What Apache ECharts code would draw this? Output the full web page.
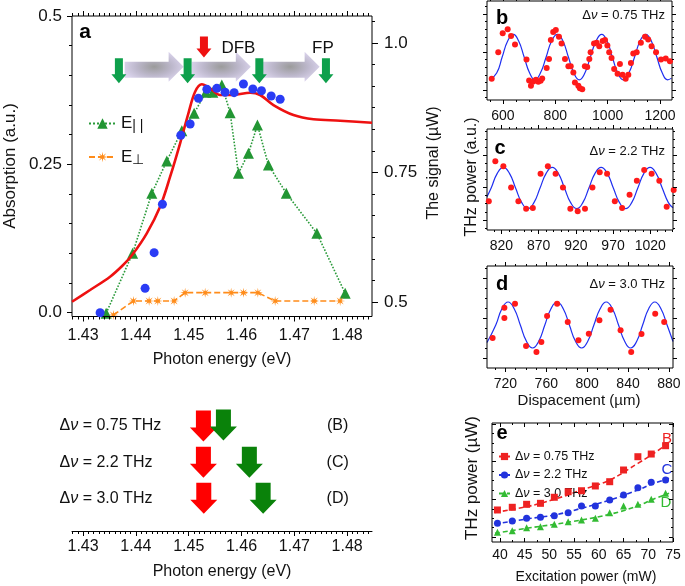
<!DOCTYPE html>
<html><head><meta charset="utf-8">
<script src="https://cdn.jsdelivr.net/npm/echarts@6/dist/echarts.min.js"></script>
<style>html,body{margin:0;padding:0;background:#fff}#c{width:685px;height:586px}</style>
</head><body><div id="c"></div>
<script>
// ================= DATA =================
// Panel a : absorption spectrum (left axis) and THz signal (right axis)
const absEnergy = [1.4279,1.43133,1.43511,1.43739,1.43928,1.44206,1.44458,1.44648,1.44837,1.44994,1.45121,1.45248,1.45405,1.45595,1.45847,1.46163,1.46352,1.46604,1.46983,1.47362,1.47867,1.48470];
const absValue  = [0.0185,0.0383,0.0607,0.0787,0.0972,0.1338,0.1786,0.2292,0.2855,0.336,0.3724,0.3849,0.3782,0.3669,0.3669,0.3707,0.3669,0.350,0.3332,0.3259,0.3236,0.3202];
const dotEnergy = [1.43322,1.44174,1.44345,1.44502,1.44850,1.45027,1.45184,1.45343,1.45532,1.45689,1.45860,1.46036,1.46214,1.46377,1.46561,1.46731];
const dotSignal = [0.4793,0.5264,0.5952,0.6886,0.8218,0.8436,0.8932,0.9106,0.9125,0.9048,0.9041,0.9208,0.9112,0.9079,0.8977,0.8913];
const eParEnergy = [1.43436,1.43938,1.44301,1.44585,1.44869,1.45102,1.45324,1.45456,1.45627,1.45784,1.45941,1.46131,1.46301,1.46509,1.46848,1.47426,1.47962];
const eParSignal = [0.4782,0.5940,0.7098,0.7722,0.8305,0.8643,0.9048,0.9048,0.9189,0.8654,0.7485,0.7871,0.8417,0.7645,0.7098,0.6326,0.5168];
const ePerpEnergy = [1.43574,1.43953,1.44250,1.44415,1.44723,1.44932,1.45311,1.45803,1.46036,1.46309,1.46636,1.47375,1.47867];
const ePerpSignal = [0.4749,0.5019,0.5019,0.5019,0.5019,0.5180,0.5180,0.5180,0.5180,0.5180,0.5019,0.5019,0.5019];
const fpModeEnergy = [1.43678,1.44979,1.46337,1.47598];
const tuningArrowEnergy = [1.44345,1.45617,1.46920];
const dfbEnergy = [1.45288];
const aXTicks = [1.43,1.44,1.45,1.46,1.47,1.48];
const aYLeftTicks = [0, 0.25, 0.5];
const aYRightTicks = [0.5, 0.75, 1.0];

// Lower-left panel : pump (red) and mode (green) arrows
const shiftLabels = ['0.75 THz','2.2 THz','3.0 THz'];
const shiftLetters = ['(B)','(C)','(D)'];
const shiftRows = [3, 2, 1];
const pumpArrowEnergy = [1.45278,1.45278,1.45285];
const modeArrowEnergy = [1.45657,1.46148,1.46409];
const modeArrowRows = [3.03, 2, 1];

// Panel b : Δν = 0.75 THz
const bDisp  = [557,582,599,618,631,646,690,700,707,716,726,735,744,750,767,776,783,792,802,814,824,837,850,859,869,875,888,894,903,913,922,930,935,948,958,968,981,990,999,1006,1015,1025,1038,1047,1057,1069,1079,1089,1098,1111,1127,1143,1155,1168,1185,1204,1222,1238];
const bPower = [0.214,0.483,0.673,0.714,0.646,0.561,0.408,0.197,0.143,0.187,0.204,0.184,0.194,0.218,0.323,0.415,0.605,0.687,0.707,0.640,0.571,0.415,0.340,0.340,0.279,0.177,0.143,0.119,0.109,0.340,0.333,0.415,0.483,0.571,0.578,0.544,0.595,0.605,0.551,0.483,0.425,0.313,0.265,0.364,0.255,0.214,0.255,0.374,0.469,0.483,0.578,0.640,0.612,0.544,0.483,0.408,0.418,0.391];
const bFitDisp  = [550,576,597,618,639.5,660,681,702,722,743,765,786,807.7,829,850,871,891.6,913,934,956,977.4,998,1018,1039,1059.7,1081,1103,1124,1145.5,1167,1188,1209,1229.3,1244];
const bFitPower = [0.206,0.272,0.434,0.596,0.663,0.596,0.434,0.272,0.204,0.272,0.434,0.596,0.663,0.596,0.434,0.272,0.204,0.272,0.434,0.596,0.663,0.596,0.434,0.272,0.204,0.272,0.434,0.596,0.663,0.596,0.434,0.272,0.204,0.221];
const bXTicks = [600,800,1000,1200];

// Panel c : Δν = 2.2 THz
const cDisp  = [803,811.8,822.6,833,842.8,853.2,862.2,872.6,882.4,892.8,902.7,912.6,922.5,932.3,942.3,952.1,962,972.4,982.2,992.2,1002,1011.9,1021.9,1032.2,1042.1,1051.5];
const cPower = [0.284,0.680,0.630,0.422,0.284,0.211,0.218,0.558,0.630,0.558,0.422,0.211,0.185,0.211,0.422,0.571,0.558,0.284,0.218,0.350,0.488,0.594,0.558,0.488,0.231,0.396];
const cFitDisp  = [800.6,806.2,814.4,822.6,830.8,839,847.3,855.5,863.7,871.9,880.1,888.3,896.5,904.7,913,921.2,929.4,937.6,945.8,954,962.2,970.4,978.7,986.9,995.1,1003.3,1011.5,1019.7,1027.9,1036.1,1044.4,1050.6];
const cFitPower = [0.33,0.416,0.561,0.621,0.561,0.416,0.271,0.211,0.271,0.416,0.561,0.621,0.561,0.416,0.271,0.211,0.271,0.416,0.561,0.621,0.561,0.416,0.271,0.211,0.271,0.416,0.561,0.621,0.561,0.416,0.271,0.22];
const cXTicks = [820,870,920,970,1020];

// Panel d : Δν = 3.0 THz
const dDisp  = [707.5,719,719,729.4,740.2,750.4,755.2,760.8,770.6,781,791.5,801.6,812,822.9,832.7,843.1,853.2,866.6,875.4];
const dPower = [0.294,0.591,0.490,0.631,0.216,0.157,0.255,0.510,0.631,0.451,0.271,0.337,0.467,0.572,0.369,0.157,0.333,0.533,0.451];
const dFitDisp  = [702,710.6,716.6,722.6,728.6,734.6,740.6,746.6,752.6,758.6,764.6,770.6,776.6,782.6,788.6,794.6,800.6,806.6,812.7,818.7,824.7,830.7,836.7,842.5,848.5,854.3,860.2,866.2,872.2,878.2,884];
const dFitPower = [0.25,0.4215,0.581,0.647,0.581,0.4215,0.262,0.196,0.262,0.4215,0.581,0.647,0.581,0.4215,0.262,0.196,0.262,0.4215,0.581,0.647,0.581,0.4215,0.262,0.196,0.262,0.4215,0.581,0.647,0.581,0.4215,0.26];
const dXTicks = [720,760,800,840,880];

// Panel e : THz power vs excitation power
const excitation = [39.5,42.5,45.4,48.2,51.0,53.8,56.5,59.3,62.2,65.0,67.9,70.6,73.5];
const powerB = [0.323,0.350,0.380,0.390,0.451,0.507,0.517,0.565,0.608,0.726,0.860,0.887,0.971];
const powerC = [0.188,0.212,0.239,0.249,0.265,0.296,0.363,0.363,0.423,0.474,0.548,0.602,0.625];
const powerD = [0.098,0.114,0.144,0.154,0.178,0.205,0.222,0.239,0.296,0.363,0.380,0.430,0.491];
const fitExcitation = [39.0,45.4,51.0,56.5,62.2,67.9,70.6,74.2];
const fitB = [0.299,0.356,0.430,0.524,0.625,0.793,0.877,1.001];
const fitC = [0.181,0.232,0.272,0.340,0.423,0.524,0.581,0.642];
const fitD = [0.088,0.138,0.178,0.222,0.279,0.363,0.423,0.491];
const eXTicks = [40,45,50,55,60,65,70,75];
const eNames = ['Δν = 0.75 THz','Δν = 2.2 THz','Δν = 3.0 THz'];

// ================= HELPERS =================
const FONT = '"Liberation Sans", Arial, Helvetica, sans-serif';
const zip = (a, b) => a.map((v, i) => [v, b[i]]);
function steps(a, b, s) { const o = []; const n = Math.round((b - a) / s); for (let i = 0; i <= n; i++) o.push(+(a + i * s).toFixed(6)); return o; }
function minus(list, maj) { return list.filter(v => !maj.some(m => Math.abs(m - v) < 1e-7)); }

const xAxes = [], yAxes = [];
function axis(list, o) {
  list.push({
    type: 'value', gridIndex: o.grid, position: o.pos, min: o.min, max: o.max, offset: 0,
    show: o.show !== false,
    axisLine: { show: !!o.line, onZero: false, lineStyle: { color: '#000', width: 1 } },
    splitLine: { show: false },
    axisTick: { show: !!(o.ticks && o.ticks.length), inside: !!o.inside, length: o.len || 4, customValues: o.ticks || [], lineStyle: { color: '#000', width: 1 } },
    axisLabel: { show: !!o.labels, customValues: o.labels || [], formatter: o.fmt || (v => String(v)), margin: o.margin || 8, color: '#111', fontSize: o.fs || 14, fontFamily: FONT, hideOverlap: false },
    axisPointer: { show: false }, silent: true, z: 5
  });
  return list.length - 1;
}
function frame(gi, xr, yr, xMaj, xMin, yMaj, yMin, o) {
  const inside = !!o.inside;
  const xi = axis(xAxes, { grid: gi, pos: 'bottom', min: xr[0], max: xr[1], labels: xMaj, ticks: xMaj, len: o.maj, inside, fmt: o.xfmt, fs: o.fs, margin: o.xm });
  axis(xAxes, { grid: gi, pos: 'bottom', min: xr[0], max: xr[1], ticks: xMin, len: o.mn, inside });
  axis(xAxes, { grid: gi, pos: 'top', min: xr[0], max: xr[1], ticks: xMaj, len: o.maj, inside });
  axis(xAxes, { grid: gi, pos: 'top', min: xr[0], max: xr[1], ticks: xMin, len: o.mn, inside });
  const yi = axis(yAxes, { grid: gi, pos: 'left', min: yr[0], max: yr[1], labels: o.ylabels, ticks: yMaj, len: o.maj, inside, fmt: o.yfmt, fs: o.yfs, margin: o.ym });
  axis(yAxes, { grid: gi, pos: 'left', min: yr[0], max: yr[1], ticks: yMin, len: o.mn, inside });
  if (!o.noRight) {
    axis(yAxes, { grid: gi, pos: 'right', min: yr[0], max: yr[1], ticks: yMaj, len: o.maj, inside });
    axis(yAxes, { grid: gi, pos: 'right', min: yr[0], max: yr[1], ticks: yMin, len: o.mn, inside });
  }
  return { x: xi, y: yi };
}
function tickSet(start, step, lo, hi) { const o = []; for (let k = -20; k <= 60; k++) { const v = +(start + k * step).toFixed(6); if (v >= lo && v <= hi) o.push(v); } return o; }

// ================= LAYOUT =================
const grids = [
  { left: 72, top: 16, width: 300, height: 300.5 },
  { left: 72, top: 405, width: 300, height: 126 },
  { left: 487, top: 1, width: 185, height: 99 },
  { left: 487, top: 129, width: 186, height: 101 },
  { left: 487, top: 266, width: 186, height: 102 },
  { left: 492, top: 423, width: 181, height: 119 }
].map((g, i) => Object.assign({ show: i !== 1, borderColor: '#000', borderWidth: 1, backgroundColor: 'transparent', containLabel: false, z: 4 }, g));

// Panel a axes
const aXR = [1.4279, 1.4847];
const A = frame(0, aXR, [-0.0064, 0.5], aXTicks, minus(steps(1.428, 1.484, 0.001), aXTicks), aYLeftTicks,
  minus(steps(0.05, 0.45, 0.05), aYLeftTicks),
  { maj: 5, mn: 3, xfmt: v => v.toFixed(2), fs: 16, xm: 11, ylabels: aYLeftTicks, yfmt: v => v === 0 ? '0.0' : String(v), yfs: 17, ym: 10, noRight: true });
const aYR = axis(yAxes, { grid: 0, pos: 'right', min: 0.472, max: 1.0521, labels: aYRightTicks, ticks: aYRightTicks, len: 6, fmt: v => v === 1 ? '1.0' : String(v), fs: 17, margin: 12 });
axis(yAxes, { grid: 0, pos: 'right', min: 0.472, max: 1.0521, ticks: minus(tickSet(0.5, 0.25 / 6, 0.472, 1.0521), aYRightTicks), len: 3 });

// lower-left axes
const LX = axis(xAxes, { grid: 1, pos: 'bottom', min: aXR[0], max: aXR[1], line: true, labels: aXTicks, ticks: aXTicks, len: 5, fmt: v => v.toFixed(2), fs: 16, margin: 8 });
axis(xAxes, { grid: 1, pos: 'bottom', min: aXR[0], max: aXR[1], ticks: minus(steps(1.428, 1.484, 0.001), aXTicks), len: 3 });
const LY = axis(yAxes, { grid: 1, pos: 'left', min: 0.0954, max: 3.581, show: false });

// b, c, d, e axes
const B = frame(2, [539, 1246], [0, 1], bXTicks, minus(steps(550, 1200, 50), bXTicks),
  [0.102, 0.4845, 0.867], minus(tickSet(0.102, 0.0765, 0, 1), [0.102, 0.4845, 0.867]), { maj: 4, mn: 2, fs: 14, xm: 9 });
const C = frame(3, [800.6, 1050.6], [0, 1], cXTicks, minus(steps(810, 1050, 10), cXTicks),
  [0.10, 0.42, 0.74], minus(tickSet(0.10, 0.08, 0, 1), [0.10, 0.42, 0.74]), { maj: 4, mn: 2, fs: 14, xm: 9 });
const D = frame(4, [702, 884], [0, 1], dXTicks, minus(steps(710, 880, 10), dXTicks),
  [0.095, 0.487, 0.879], minus(tickSet(0.095, 0.098, 0, 1), [0.095, 0.487, 0.879]), { maj: 4, mn: 2, fs: 14, xm: 9 });
const E = frame(5, [38.4, 75], [0, 1.2], eXTicks, minus(steps(40, 75, 2.5), eXTicks),
  [0.05, 0.43, 0.81, 1.19], minus(tickSet(0.05, 0.095, 0, 1.2), [0.05, 0.43, 0.81, 1.19]), { maj: 4, mn: 2, inside: true, fs: 14, xm: 6 });

// ================= SYMBOLS =================
function starPath(n, R, r) { let d = ''; for (let i = 0; i < 2 * n; i++) { const a = Math.PI * i / n - Math.PI / 2; const rad = i % 2 ? r : R; d += (i ? 'L' : 'M') + (R + rad * Math.cos(a)).toFixed(2) + ',' + (R + rad * Math.sin(a)).toFixed(2); } return 'path://' + d + 'Z'; }
const STAR = starPath(8, 10, 3.2);
const DOWN_THIN = 'path://M3.5,0L11.5,0L11.5,16L15,16L7.5,25L0,16L3.5,16Z';
const DOWN_RED = 'path://M3.5,0L11.5,0L11.5,12L15,12L7.5,21L0,12L3.5,12Z';
const DOWN_WIDE = 'path://M6,0L21,0L21,17L27,17L13.5,31L0,17L6,17Z';
const RIGHT_ARROW = 'path://M0,10L44,10L44,0L59,15L44,30L44,26L0,26Z';
const purpleGrad = new echarts.graphic.RadialGradient(0.5, 0.5, 0.55, [
  { offset: 0, color: '#9b9b9b' }, { offset: 0.55, color: '#bdb8cc' }, { offset: 1, color: '#dcd5ee' }]);
const HIDDEN = { color: 'rgba(0,0,0,0)', opacity: 1 };

// ================= SERIES =================
const series = [];
// panel a
series.push({ type: 'line', name: 'E||', xAxisIndex: A.x, yAxisIndex: aYR, data: zip(eParEnergy, eParSignal),
  symbol: 'triangle', symbolSize: 11, lineStyle: { type: 'dotted', width: 1.6, color: '#2a9a3a' }, itemStyle: { color: '#229633', opacity: 1 }, z: 3, silent: true });
series.push({ type: 'line', name: 'E⊥', xAxisIndex: A.x, yAxisIndex: aYR, data: zip(ePerpEnergy, ePerpSignal),
  symbol: STAR, symbolSize: 10, lineStyle: { type: [6, 3], width: 1.6, color: '#ff8c1a' }, itemStyle: { color: '#ff8c1a', opacity: 1 }, z: 3, silent: true });
series.push({ type: 'line', name: 'Absorption', xAxisIndex: A.x, yAxisIndex: A.y, data: zip(absEnergy, absValue),
  smooth: 0.35, symbol: 'none', lineStyle: { color: '#ee1111', width: 2.6 }, z: 4, silent: true });
series.push({ type: 'scatter', name: 'signal', xAxisIndex: A.x, yAxisIndex: aYR, data: zip(dotEnergy, dotSignal),
  symbolSize: 9, itemStyle: { color: '#2a3cf5', opacity: 1 }, z: 5, silent: true });
series.push({ type: 'scatter', xAxisIndex: A.x, yAxisIndex: aYR, data: tuningArrowEnergy.map(e => [e, 0.9542]),
  symbol: RIGHT_ARROW, symbolSize: [59, 30], itemStyle: { color: purpleGrad, opacity: 1 }, z: 6, silent: true });
series.push({ type: 'scatter', xAxisIndex: A.x, yAxisIndex: aYR, data: fpModeEnergy.map(e => [e, 0.9463]),
  symbol: DOWN_THIN, symbolSize: [15, 25], itemStyle: { color: '#0ea04c', opacity: 1 }, z: 7, silent: true });
series.push({ type: 'scatter', xAxisIndex: A.x, yAxisIndex: aYR, data: dfbEnergy.map(e => [e, 0.9923]),
  symbol: DOWN_RED, symbolSize: [15, 21], itemStyle: { color: '#ee1111', opacity: 1 }, z: 7, silent: true,
  label: { show: true, position: 'right', distance: 10, offset: [0, 1], formatter: 'DFB', color: '#111', fontSize: 17, fontFamily: FONT } });
series.push({ type: 'scatter', xAxisIndex: A.x, yAxisIndex: aYR, data: [[fpModeEnergy[3], 0.9923]],
  symbolSize: 1, itemStyle: HIDDEN, silent: true,
  label: { show: true, position: 'inside', formatter: 'FP', color: '#111', fontSize: 17, fontFamily: FONT, offset: [-3, 1] } });

// lower-left
series.push({ type: 'scatter', xAxisIndex: LX, yAxisIndex: LY, data: pumpArrowEnergy.map((e, i) => [e, shiftRows[i]]),
  symbol: DOWN_WIDE, symbolSize: [27, 31], itemStyle: { color: '#ff0000', opacity: 1 }, z: 3, silent: true });
series.push({ type: 'scatter', xAxisIndex: LX, yAxisIndex: LY, data: modeArrowEnergy.map((e, i) => [e, modeArrowRows[i]]),
  symbol: DOWN_WIDE, symbolSize: [27, 31], itemStyle: { color: '#0a820a', opacity: 1 }, z: 4, silent: true });
series.push({ type: 'scatter', xAxisIndex: LX, yAxisIndex: LY, data: shiftLabels.map((t, i) => [aXR[0], shiftRows[i], t]),
  symbolSize: 1, itemStyle: HIDDEN, silent: true, clip: false,
  label: { show: true, position: 'right', distance: 0, offset: [-13, 0], formatter: p => '{t|Δ}{i|ν}{t| = ' + p.data[2] + '}',
    rich: { t: { fontSize: 16, fontFamily: FONT, color: '#111' }, i: { fontSize: 16, fontFamily: FONT, fontStyle: 'italic', color: '#111' } } } });
series.push({ type: 'scatter', xAxisIndex: LX, yAxisIndex: LY, data: shiftLetters.map((t, i) => [1.4782, shiftRows[i], t]),
  symbolSize: 1, itemStyle: HIDDEN, silent: true,
  label: { show: true, position: 'inside', formatter: p => p.data[2], fontSize: 16, fontFamily: FONT, color: '#111' } });

// b, c, d
const RED = '#ff1a1a', BLUE = '#1f2ff0';
[[B, bDisp, bPower, bFitDisp, bFitPower], [C, cDisp, cPower, cFitDisp, cFitPower], [D, dDisp, dPower, dFitDisp, dFitPower]].forEach(([ax, xs, ys, fx, fy]) => {
  series.push({ type: 'line', xAxisIndex: ax.x, yAxisIndex: ax.y, data: zip(fx, fy), smooth: 0.5, symbol: 'none',
    lineStyle: { color: BLUE, width: 1.2 }, z: 3, silent: true });
  series.push({ type: 'scatter', xAxisIndex: ax.x, yAxisIndex: ax.y, data: zip(xs, ys), symbolSize: 6, clip: false,
    itemStyle: { color: RED, opacity: 1 }, z: 4, silent: true });
});

// e
const eCols = ['#ee2222', '#2233dd', '#33bb33'];
const eSyms = ['rect', 'circle', 'triangle'];
const eFits = [fitB, fitC, fitD];
const ePts = [powerB, powerC, powerD];
eNames.forEach((nm, i) => {
  series.push({ type: 'line', name: nm, xAxisIndex: E.x, yAxisIndex: E.y, data: zip(fitExcitation, eFits[i]), smooth: 0.4,
    symbol: eSyms[i], symbolSize: 7, showSymbol: false, lineStyle: { color: eCols[i], width: 1.6, type: [5, 3] }, itemStyle: { color: eCols[i], opacity: 1 }, z: 3, silent: true });
});
eNames.forEach((nm, i) => {
  series.push({ type: 'scatter', name: nm, xAxisIndex: E.x, yAxisIndex: E.y, data: zip(excitation, ePts[i]), symbol: eSyms[i],
    symbolSize: 7, itemStyle: { color: eCols[i], opacity: 1 }, z: 4, silent: true });
});

// ================= TEXT =================
function txt(t, x, y, font, o = {}) {
  return Object.assign({ type: 'text', x, y, silent: true, style: { text: t, x: 0, y: 0, font, fill: o.fill || '#111', align: o.align || 'center', verticalAlign: 'middle' } }, o.rot ? { rotation: o.rot } : {});
}
const F = (s, b) => (b ? 'bold ' : '') + s + 'px ' + FONT;
const graphic = [
  txt('a', 85, 32, F(21, true), { fill: '#000' }),
  txt('b', 502, 18, F(20, true), { fill: '#000' }),
  txt('c', 500, 148, F(20, true), { fill: '#000' }),
  txt('d', 502, 284, F(20, true), { fill: '#000' }),
  txt('e', 502, 433, F(20, true), { fill: '#000' }),
  txt('Absorption (a.u.)', 10, 166, F(17), { rot: Math.PI / 2 }),
  txt('The signal (µW)', 434, 163, F(16), { rot: Math.PI / 2 }),
  txt('THz power (a.u.)', 472, 177, F(16), { rot: Math.PI / 2 }),
  txt('THz power (µW)', 472, 478, F(17), { rot: Math.PI / 2 }),
  txt('Photon energy (eV)', 222, 360, F(16)),
  txt('Photon energy (eV)', 222, 572, F(16)),
  txt('Dispacement (µm)', 579, 401, F(15)),
  txt('Excitation power (mW)', 586, 577, F(14)),
  txt('B', 667, 439, F(15), { fill: '#ee2222' }),
  txt('C', 667, 470, F(15), { fill: '#2233dd' }),
  txt('D', 666, 503, F(15), { fill: '#33bb33' })
];
[['0.75 THz', 15], ['2.2 THz', 151], ['3.0 THz', 284]].forEach(([s, y]) => {
  graphic.push({ type: 'text', x: 665, y, silent: true, style: { text: '{t|Δ}{i|ν}{t| = ' + s + '}', x: 0, y: 0, align: 'right', verticalAlign: 'middle',
    rich: { t: { font: F(13), fill: '#111' }, i: { font: 'italic ' + F(13), fill: '#111' } } } });
});

const option = {
  animation: false, backgroundColor: '#fff',
  grid: grids, xAxis: xAxes, yAxis: yAxes, series, graphic,
  legend: [
    { left: 83, top: 110, orient: 'vertical', itemWidth: 27, itemHeight: 13, itemGap: 15, selectedMode: false, data: ['E||', 'E⊥'],
      formatter: n => n === 'E||' ? '{e|E}{s|| |}' : '{e|E}{s|⊥}',
      textStyle: { color: '#111', fontFamily: FONT, rich: { e: { fontSize: 17, fontFamily: FONT, color: '#111' }, s: { fontSize: 14, fontFamily: FONT, color: '#111', padding: [6, 0, 0, 0] } } } },
    { left: 493, top: 445, orient: 'vertical', itemWidth: 11, itemHeight: 9, itemGap: 5.5, selectedMode: false, data: eNames,
      formatter: n => '{t|Δ}{i|ν}{t|' + n.slice(2) + '}',
      textStyle: { color: '#111', fontFamily: FONT, rich: { t: { fontSize: 12.5, fontFamily: FONT, color: '#111' }, i: { fontSize: 12.5, fontFamily: FONT, fontStyle: 'italic', color: '#111' } } } }
  ]
};
const chart = echarts.init(document.getElementById('c'), null, { renderer: 'canvas', width: 685, height: 586 });
chart.setOption(option);
</script></body></html>
